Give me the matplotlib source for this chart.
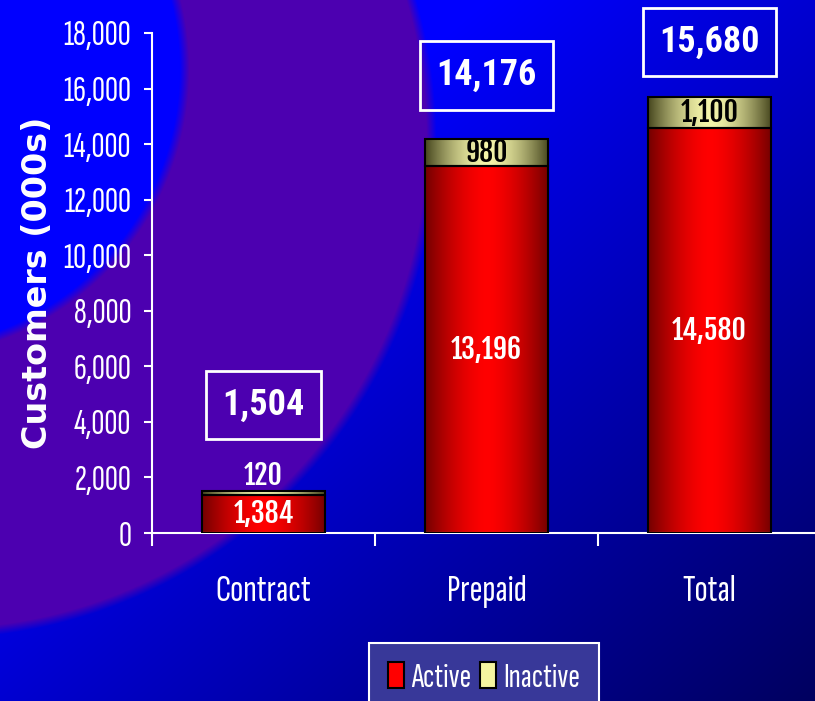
import numpy as np
import matplotlib
matplotlib.use("Agg")
import matplotlib.pyplot as plt
from matplotlib.patches import Rectangle
from matplotlib.ticker import FuncFormatter, FixedLocator

# Data (customers in 000s)
categories = ["Contract", "Prepaid", "Total"]
active = [1384, 13196, 14580]
inactive = [120, 980, 1100]
y_ticks = [0, 2000, 4000, 6000, 8000, 10000, 12000, 14000, 16000, 18000]

# Layout: how far the boxed total sits above each bar (points)
total_offsets = [62, 46, 40]

NARROW = ["Sofia Sans Extra Condensed", "Roboto Condensed", "DejaVu Sans"]
NARROW_BOLD = ["Fjalla One", "Oswald", "Roboto Condensed", "DejaVu Sans"]
BOXFONT = ["Roboto Condensed", "Liberation Sans", "DejaVu Sans"]

W, H = 815, 701
fig = plt.figure(figsize=(W / 100, H / 100), dpi=100)


def make_background():
    yy, xx = np.mgrid[0:H, 0:W].astype(float)
    # blue base, darker towards bottom right
    s = np.clip((xx / W + yy / H - 0.6) / 1.4, 0, 1)
    blue = 255 - 160 * s
    img = np.zeros((H, W, 3))
    img[..., 2] = blue
    # purple ring
    d_out = np.hypot(xx + 63, yy - 139)
    d_in = np.hypot(xx + 100, yy - 69)
    a_out = np.clip((499 - d_out) / 10, 0, 1)
    a_in = np.clip((d_in - 279) / 10, 0, 1)
    ring = (a_out * a_in)[..., None]
    purple = np.array([76, 0, 176])
    img = img * (1 - ring) + purple * ring
    return img / 255


bg = fig.add_axes([0, 0, 1, 1], zorder=0)
bg.imshow(make_background(), aspect="auto", extent=[0, 1, 0, 1])
bg.axis("off")

ax = fig.add_axes([152 / W, 1 - 533 / H, 669 / W, 500 / H], zorder=1)
ax.patch.set_alpha(0)


def shade(edge, mid, n=200):
    t = np.linspace(0, 1, n)
    f = 1 - np.abs(2 * t - 1) ** 1.6
    edge = np.array(edge) / 255
    mid = np.array(mid) / 255
    row = edge[None, :] * (1 - f[:, None]) + mid[None, :] * f[:, None]
    return row[None, :, :]


red_grad = shade((115, 0, 0), (255, 0, 0))
yellow_grad = shade((70, 70, 30), (245, 245, 170))

x = np.arange(len(categories))
width = 0.556
totals = [a + b for a, b in zip(active, inactive)]

active_bars = ax.bar(x, active, width, color="none", edgecolor="black", linewidth=1.5, zorder=3)
inactive_bars = ax.bar(x, inactive, width, bottom=active, color="none", edgecolor="black",
                       linewidth=1.5, zorder=3)

for bars, grad in [(active_bars, red_grad), (inactive_bars, yellow_grad)]:
    for bar in bars:
        x0, y0 = bar.get_xy()
        ax.imshow(grad, extent=[x0, x0 + bar.get_width(), y0, y0 + bar.get_height()],
                  aspect="auto", zorder=2, interpolation="bilinear")

ax.set_xlim(-0.5, 2.5)
ax.set_ylim(0, 18000)

# segment labels
lab_kw = dict(ha="center", fontsize=20, fontweight="bold", family=NARROW_BOLD, zorder=4)
for i in range(len(categories)):
    ax.text(x[i], active[i] / 2, f"{active[i]:,}", va="center", color="white", **lab_kw)
    if inactive[i] > 500:
        ax.text(x[i], active[i] + inactive[i] / 2, f"{inactive[i]:,}", va="center",
                color="black", **lab_kw)
    else:
        ax.annotate(f"{inactive[i]:,}", (x[i], totals[i]), xytext=(0, 0), textcoords="offset points",
                    va="bottom", color="white", **lab_kw)
    ax.annotate(f"{totals[i]:,}", (x[i], totals[i]), xytext=(0, total_offsets[i]),
                textcoords="offset points", ha="center", va="center", color="white",
                fontsize=26, fontweight="bold", family=BOXFONT, zorder=4,
                bbox=dict(boxstyle="square,pad=0.45", fc="none", ec="white", lw=2))

# axes styling
for side in ["top", "right"]:
    ax.spines[side].set_visible(False)
for side in ["left", "bottom"]:
    ax.spines[side].set_color("white")
    ax.spines[side].set_linewidth(1.5)

ax.yaxis.set_major_locator(FixedLocator(y_ticks))
ax.yaxis.set_major_formatter(FuncFormatter(lambda v, p: f"{int(v):,}"))
ax.tick_params(axis="y", colors="white", length=6, width=1.5, pad=9, labelsize=26)
for lab in ax.get_yticklabels():
    lab.set_family(NARROW)

ax.set_xticks([-0.5, 0.5, 1.5])
ax.set_xticklabels([])
ax.set_xticks(x, minor=True)
ax.set_xticklabels(categories, minor=True)
ax.tick_params(axis="x", which="major", colors="white", length=9, width=1.5)
ax.tick_params(axis="x", which="minor", length=0, pad=30, labelsize=28, labelcolor="white")
for lab in ax.get_xticklabels(minor=True):
    lab.set_family(NARROW)

ax.set_ylabel("Customers (000s)", color="white", fontsize=24, fontweight="bold", family="DejaVu Sans")
ax.yaxis.set_label_coords(-0.147, 0.5)

handles = [Rectangle((0, 0), 1, 1, fc="#ff0000", ec="black", lw=1.5),
           Rectangle((0, 0), 1, 1, fc="#f5f5a0", ec="black", lw=1.5)]
leg = fig.legend(handles, ["Active", "Inactive"], loc="upper center",
                 bbox_to_anchor=(484 / W, 1 - 643 / H), borderaxespad=0, ncol=2, frameon=True,
                 fancybox=False, handlelength=0.46, handleheight=0.75, handletextpad=0.2,
                 columnspacing=0.25, borderpad=0.55, prop={"family": NARROW, "size": 25})
leg.get_frame().set_facecolor((0.22, 0.22, 0.6))
leg.get_frame().set_edgecolor("white")
leg.get_frame().set_linewidth(1.5)
leg.get_frame().set_alpha(1)
for t in leg.get_texts():
    t.set_color("white")

fig.savefig("out.png", dpi=100)
